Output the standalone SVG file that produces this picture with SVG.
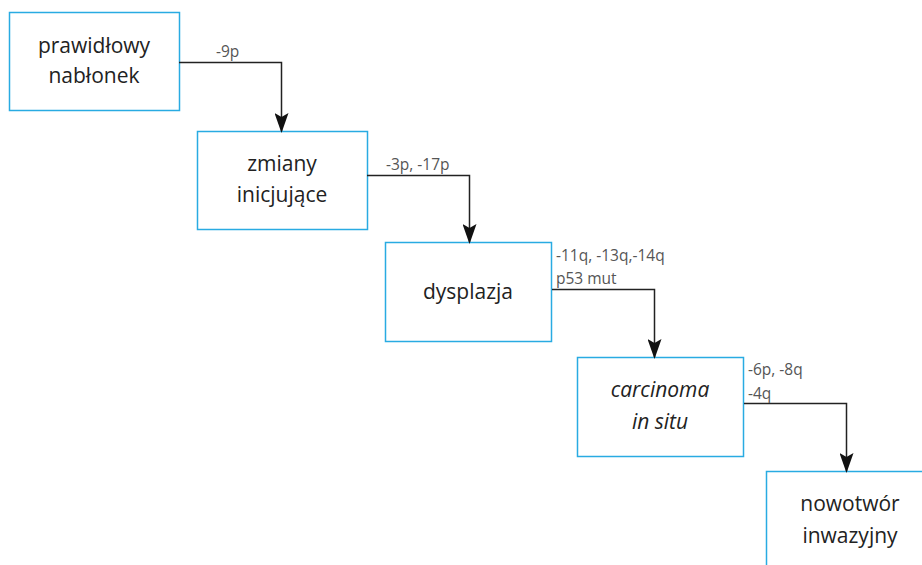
<svg xmlns="http://www.w3.org/2000/svg" width="922" height="565" viewBox="0 0 922 565">
<defs>
<marker id="arr" markerWidth="14" markerHeight="20" refX="7" refY="18" orient="0" markerUnits="userSpaceOnUse" viewBox="0 0 14 20">
<path d="M0,0 L7,4 L14,0 L7,20 Z" fill="#111"/>
</marker>
<style>
.box{fill:#fff;stroke:#29abe2;stroke-width:1.5}
.t{font-family:"Open Sans","Liberation Sans",sans-serif;font-size:21px;fill:#222;text-anchor:middle}
.i{font-style:italic}
.lbl{font-family:"Open Sans","Liberation Sans",sans-serif;font-size:15.5px;fill:#555}
.c{fill:none;stroke:#222;stroke-width:1.5}
</style>
</defs>
<rect width="922" height="565" fill="#fff"/>
<g id="n1"><rect class="box" x="9.5" y="12.5" width="170" height="98"/><text class="t" x="94" y="53">prawidłowy</text><text class="t" x="94" y="83">nabłonek</text></g>
<g id="n2"><rect class="box" x="197.5" y="131.5" width="170" height="98"/><text class="t" x="282" y="171">zmiany</text><text class="t" x="282" y="202">inicjujące</text></g>
<g id="n3"><rect class="box" x="385.5" y="242.5" width="166" height="99"/><text class="t" x="468" y="299">dysplazja</text></g>
<g id="n4"><rect class="box" x="577.5" y="357.5" width="166" height="99"/><text class="t i" x="660" y="397">carcinoma</text><text class="t i" x="660" y="429">in situ</text></g>
<g id="n5"><rect class="box" x="766.5" y="471.5" width="170" height="110"/><text class="t" x="850" y="511">nowotwór</text><text class="t" x="850" y="543">inwazyjny</text></g>
<g id="connectors">
<path class="c" d="M179,62.5 H281.5 V131" marker-end="url(#arr)"/>
<path class="c" d="M367,175.5 H469.5 V242" marker-end="url(#arr)"/>
<path class="c" d="M552,289.5 H654.5 V357" marker-end="url(#arr)"/>
<path class="c" d="M744,403.5 H846.5 V471" marker-end="url(#arr)"/>
<text class="lbl" x="216" y="57">-9p</text>
<text class="lbl" x="386" y="170">-3p, -17p</text>
<text class="lbl" x="556" y="261">-11q, -13q,-14q</text>
<text class="lbl" x="556" y="284">p53 mut</text>
<text class="lbl" x="748" y="375">-6p, -8q</text>
<text class="lbl" x="748" y="399">-4q</text>
</g>
</svg>
